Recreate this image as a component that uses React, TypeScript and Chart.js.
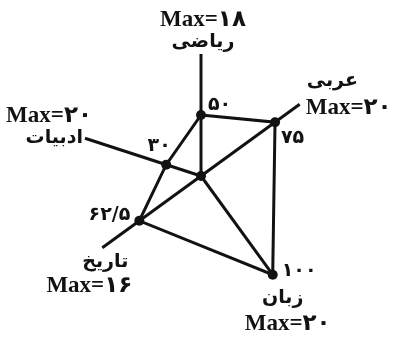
import React, { useEffect, useRef } from 'react';
import { Chart, registerables } from 'chart.js';

Chart.register(...registerables);

// ---- data ----
const subjects = ['ریاضی', 'عربی', 'زبان', 'تاریخ', 'ادبیات'];
const maxScores = [18, 20, 20, 16, 20];
const percents = [50, 75, 100, 62.5, 30];

// ---- layout (the drawing's axes are not evenly spaced: each subject sits on one of 20 spokes) ----
const SPOKES = 20;
const spokeOf = [0, 3, 8, 13, 16];

const toFa = (v: number) =>
  String(v)
    .replace(/\d/g, (d) => '۰۱۲۳۴۵۶۷۸۹'[+d])
    .replace('.', '/');

const spokeLabels: string[] = Array.from({ length: SPOKES }, () => '');
const spokeData: (number | null)[] = Array.from({ length: SPOKES }, () => null);
spokeOf.forEach((s, i) => {
  spokeLabels[s] = subjects[i];
  spokeData[s] = percents[i];
});
const usedSpoke = (idx: number) => spokeOf.includes(idx);

const LATIN = "'Liberation Serif', 'DejaVu Sans', serif";
const ARABIC = "'DejaVu Sans', sans-serif";
const INK = '#121212';
const MAX_FONT = `bold 23px ${LATIN}`;
const NAME_FONT = `bold 19px ${ARABIC}`;
const VALUE_FONT = `bold 19px ${ARABIC}`;

// axis label lines: [isName, align, dx, dy] relative to the axis end (alphabetic baseline)
type Line = [boolean, CanvasTextAlign, number, number];
const labelLayout: Line[][] = [
  [[false, 'center', 2, -28], [true, 'center', 2, -7]],
  [[true, 'left', 7, -18], [false, 'left', 6, 10]],
  [[true, 'center', 10, 28], [false, 'center', 15, 55]],
  [[true, 'right', 26, 19], [false, 'right', 30, 44]],
  [[false, 'right', 7, -16], [true, 'right', -2, 5]],
];

// value labels: [dx, dy, align] relative to the point (alphabetic baseline)
const valueLayout: [number, number, CanvasTextAlign][] = [
  [7, -5, 'left'],
  [6, 21, 'left'],
  [9, 1, 'left'],
  [-9, -1, 'right'],
  [-7, -14, 'center'],
];

const labelsPlugin = {
  id: 'radarTexts',
  afterDatasetsDraw(chart: any) {
    const ctx = chart.ctx;
    const scale = chart.scales.r;
    ctx.save();
    ctx.fillStyle = INK;
    // centre dot
    ctx.beginPath();
    ctx.arc(scale.xCenter, scale.yCenter, 5, 0, Math.PI * 2);
    ctx.fill();
    ctx.textBaseline = 'alphabetic';
    // axis labels
    subjects.forEach((name, i) => {
      const end = scale.getPointPosition(spokeOf[i], scale.drawingArea);
      labelLayout[i].forEach(([isName, align, dx, dy]) => {
        ctx.font = isName ? NAME_FONT : MAX_FONT;
        ctx.textAlign = align;
        const txt = isName ? name : 'Max=' + toFa(maxScores[i]);
        ctx.fillText(txt, end.x + dx, end.y + dy);
      });
    });
    // value labels
    const meta = chart.getDatasetMeta(0);
    ctx.font = VALUE_FONT;
    spokeOf.forEach((s, i) => {
      const pt = meta.data[s];
      const [dx, dy, align] = valueLayout[i];
      ctx.textAlign = align;
      ctx.fillText(toFa(percents[i]), pt.x + dx, pt.y + dy);
    });
    ctx.restore();
  },
};

export default function App() {
  const ref = useRef<HTMLCanvasElement>(null);
  useEffect(() => {
    document.body.style.margin = '0';
    const chart = new Chart(ref.current!, {
      type: 'radar',
      data: {
        labels: spokeLabels,
        datasets: [
          {
            data: spokeData,
            spanGaps: true,
            borderColor: INK,
            borderWidth: 3,
            backgroundColor: 'transparent',
            fill: false,
            pointRadius: 5,
            pointBackgroundColor: INK,
            pointBorderWidth: 0,
          },
        ],
      },
      options: {
        animation: false,
        responsive: true,
        maintainAspectRatio: false,
        layout: { padding: { left: 79, right: 72, top: 54, bottom: 49 } },
        plugins: { legend: { display: false }, tooltip: { enabled: false } },
        scales: {
          r: {
            min: 0,
            max: 100,
            ticks: { display: false },
            grid: { display: false },
            angleLines: {
              display: true,
              color: INK,
              lineWidth: (c: any) => (usedSpoke(c.index) ? 3 : 0),
            },
            pointLabels: { display: false },
          },
        },
      },
      plugins: [labelsPlugin],
    });
    return () => chart.destroy();
  }, []);
  return (
    <div style={{ position: 'absolute', left: 0, top: 0, width: 395, height: 347, background: '#fff' }}>
      <canvas ref={ref} />
    </div>
  );
}
